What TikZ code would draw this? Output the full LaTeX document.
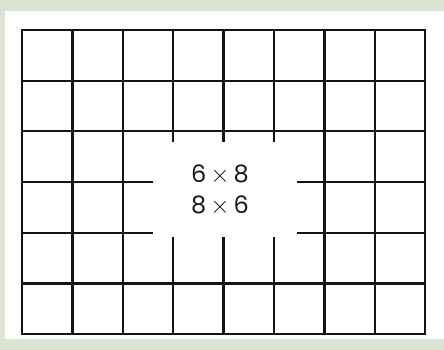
\documentclass[tikz,border=0pt]{standalone}
\usepackage{fontspec}
\setmainfont{Poppins}
\definecolor{paper}{RGB}{221,229,210}
\newcommand{\by}{\,$\times$\,}
\tikzset{gridline/.style={line width=2.3pt,line cap=rect,draw=black!92},
  prod/.style={font=\fontsize{24}{28}\selectfont,inner sep=0pt,text=black!90}}
\begin{document}
\begin{tikzpicture}[x=1pt,y=-1pt]
\fill[paper] (0,0) rectangle (444,350);
\fill[white] (5,11) rectangle (444,339);
% the 8 by 6 grid
\foreach \i in {0,...,8}
  \draw[gridline] ({22+50.4*\i},30) -- ({22+50.4*\i},334);
\foreach \j in {0,...,6}
  \draw[gridline] (22,{30+50.67*\j}) -- (425,{30+50.67*\j});
% white window in the middle
\fill[white] (153,142) rectangle (297,237);
\node[prod] (top) at (220,175) {6\by8};
\node[prod] (bot) at (220,206) {8\by6};
\end{tikzpicture}
\end{document}
